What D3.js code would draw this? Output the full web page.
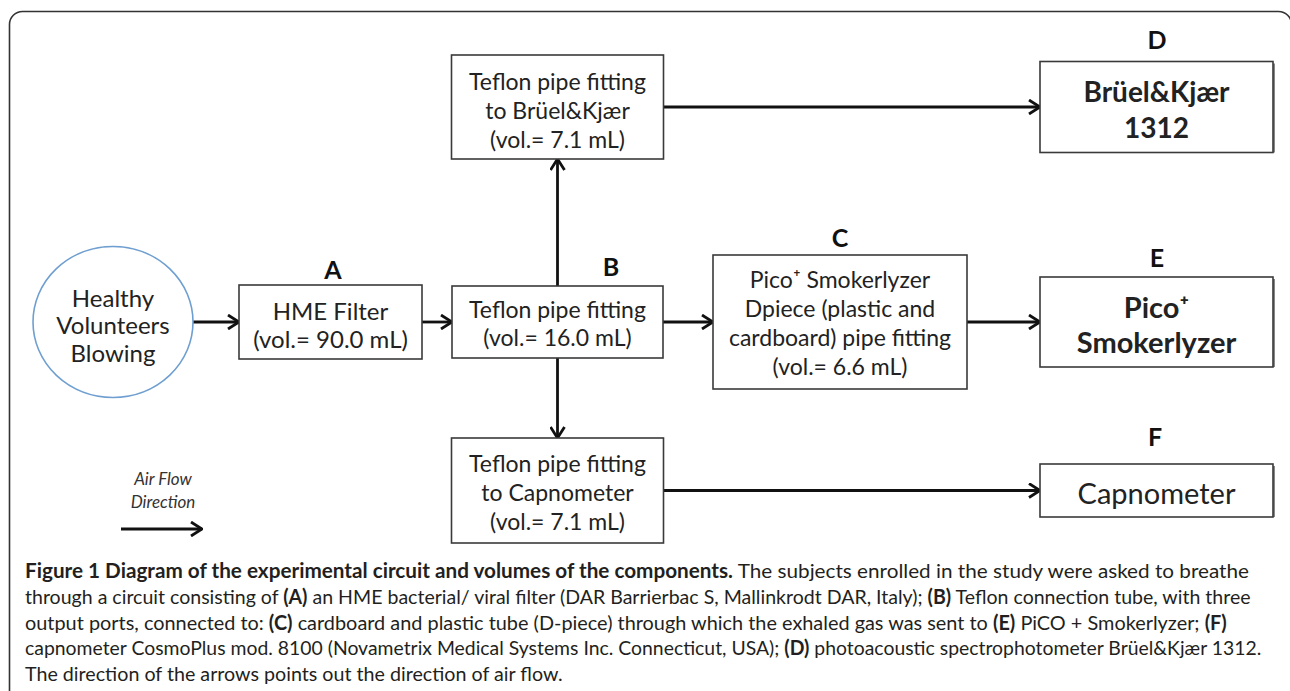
<!DOCTYPE html>
<html><head><meta charset="utf-8">
<script src="https://cdn.jsdelivr.net/npm/d3@7"></script>
<style>body{margin:0;background:#fff}svg{display:block}</style>
</head><body>
<svg id="c" width="1290" height="691"></svg>
<script>
// ---- data ----
const nodeIds    = ["src","A","B","top","bot","C","D","E","F"];
const nodeLetters= ["", "A","B","","","C","D","E","F"];
const nodeLines  = [
  ["Healthy","Volunteers","Blowing"],
  ["HME Filter","(vol.= 90.0 mL)"],
  ["Teflon pipe fitting","(vol.= 16.0 mL)"],
  ["Teflon pipe fitting","to Brüel&Kjær","(vol.= 7.1 mL)"],
  ["Teflon pipe fitting","to Capnometer","(vol.= 7.1 mL)"],
  ["Pico⁺ Smokerlyzer","Dpiece (plastic and","cardboard) pipe fitting","(vol.= 6.6 mL)"],
  ["Brüel&Kjær","1312"],
  ["Pico⁺","Smokerlyzer"],
  ["Capnometer"]
];
const nodeCols = [0,1,2,2,2,3,4,4,4];
const nodeRows = ["mid","mid","mid","top","bot","mid","top","mid","bot"];
const edgeFrom = ["src","A","B","B","B","C","top","bot"];
const edgeTo   = ["A","B","C","top","bot","E","D","F"];
const legendLines = ["Air Flow","Direction"];
const captionLines = [
  [["Figure 1 Diagram of the experimental circuit and volumes of the components.",1],[" The subjects enrolled in the study were asked to breathe",0]],
  [["through a circuit consisting of ",0],["(A)",1],[" an HME bacterial/ viral filter (DAR Barrierbac S, Mallinkrodt DAR, Italy); ",0],["(B)",1],[" Teflon connection tube, with three",0]],
  [["output ports, connected to: ",0],["(C)",1],[" cardboard and plastic tube (D-piece) through which the exhaled gas was sent to ",0],["(E)",1],[" PiCO + Smokerlyzer; ",0],["(F)",1]],
  [["capnometer CosmoPlus mod. 8100 (Novametrix Medical Systems Inc. Connecticut, USA); ",0],["(D)",1],[" photoacoustic spectrophotometer Brüel&Kjær 1312.",0]],
  [["The direction of the arrows points out the direction of air flow.",0]]
];

// ---- layout (geometry/styles) ----
const xCol = d3.scaleOrdinal().domain([0,1,2,3,4]).range([113,330.5,557.5,840,1156.5]);
const yRow = d3.scaleOrdinal().domain(["top","mid","bot"]).range([107,322,490.5]);
const size = {src:[160,151],A:[183,74],B:[211,72],top:[212,104],bot:[212,105],C:[254,134],D:[233,91],E:[233,90],F:[233,53]};
const letterPos = {A:[333,270],B:[611,267],C:[840,238],D:[1157,40],E:[1157,258],F:[1155,437]};
const lineGap = {src:27.5,A:28,B:28,top:29,bot:29,C:29,D:36,E:35,F:0};
const textShift = {src:4,A:4,B:2,top:4,bot:2,C:1,D:3,E:3,F:3};
const fontSpec = {src:[24,400],A:[24,400],B:[23,400],top:[23,400],bot:[23,400],C:[23,400],D:[28,700],E:[29,700],F:[29,400]};
const captionEnds = [1250,1251,1227,1262,563];
const captionY = d3.scaleLinear().domain([0,4]).range([578,681]);

const svg = d3.select("#c");
const FONT = "Lato, 'Open Sans', sans-serif";

// frame
svg.append("rect").attr("x",9.5).attr("y",11.5).attr("width",1282).attr("height",760)
  .attr("rx",13).attr("fill","none").attr("stroke","#333").attr("stroke-width",1.6);

// marker
svg.append("defs").append("marker").attr("id","arr").attr("viewBox","0 0 13 16")
  .attr("refX",12).attr("refY",8).attr("markerWidth",13).attr("markerHeight",16)
  .attr("markerUnits","userSpaceOnUse").attr("orient","auto")
  .append("path").attr("d","M1,1 L12,8 L1,15").attr("fill","none").attr("stroke","#111").attr("stroke-width",2.8);

const nodes = nodeIds.map((id,i)=>({id, letter:nodeLetters[i], lines:nodeLines[i],
  cx:xCol(nodeCols[i]), cy:yRow(nodeRows[i]), w:size[id][0], h:size[id][1]}));
const byId = Object.fromEntries(nodes.map(n=>[n.id,n]));

// edges
const edges = edgeFrom.map((f,i)=>{
  const a=byId[f], b=byId[edgeTo[i]];
  if (Math.abs(a.cx-b.cx)<1) { // vertical
    const down = b.cy>a.cy;
    return {x1:a.cx, y1: down? a.cy+a.h/2 : a.cy-a.h/2, x2:b.cx, y2: down? b.cy-b.h/2 : b.cy+b.h/2};
  }
  const y = a.cy;
  return {x1:a.cx+a.w/2, y1:y, x2:b.cx-b.w/2, y2:y};
});
svg.selectAll("line.e").data(edges).join("line").attr("class","e")
  .attr("x1",d=>d.x1).attr("y1",d=>d.y1).attr("x2",d=>d.x2).attr("y2",d=>d.y2)
  .attr("stroke","#111").attr("stroke-width",2.8).attr("marker-end","url(#arr)");

// shadows on right-side boxes
nodes.filter(n=>["D","E","F"].includes(n.id)).forEach(n=>{
  svg.append("rect").attr("x",n.cx+n.w/2-1).attr("y",n.cy-n.h/2+2).attr("width",3).attr("height",n.h-2)
    .attr("fill","#888");
});

// boxes
nodes.forEach(n=>{
  if(n.id==="src"){
    svg.append("ellipse").attr("cx",n.cx).attr("cy",n.cy).attr("rx",n.w/2).attr("ry",n.h/2)
      .attr("fill","#fff").attr("stroke","#6f9fd0").attr("stroke-width",1.6);
  } else {
    svg.append("rect").attr("x",n.cx-n.w/2).attr("y",n.cy-n.h/2).attr("width",n.w).attr("height",n.h)
      .attr("fill","#fff").attr("stroke","#3a3a3a").attr("stroke-width",1.6);
  }
  const [fs,fw]=fontSpec[n.id], gap=lineGap[n.id];
  const t = svg.append("text").attr("text-anchor","middle").attr("font-family",FONT)
    .attr("font-size",fs).attr("font-weight",fw).attr("fill","#222");
  n.lines.forEach((l,i)=>{
    t.append("tspan").attr("x",n.cx)
      .attr("y", n.cy + textShift[n.id] + (i-(n.lines.length-1)/2)*gap + fs*0.35).text(l);
  });
  if(n.letter){
    const p=letterPos[n.letter];
    svg.append("text").attr("x",p[0]).attr("y",p[1]+9).attr("text-anchor","middle")
      .attr("font-family",FONT).attr("font-size",25).attr("font-weight",700).attr("fill","#111").text(n.letter);
  }
});

// legend
const lg = svg.append("text").attr("text-anchor","middle").attr("font-family",FONT)
  .attr("font-size",17).attr("font-style","italic").attr("fill","#333");
legendLines.forEach((l,i)=>lg.append("tspan").attr("x",163).attr("y",485+i*23).text(l));
svg.append("line").attr("x1",121).attr("x2",202).attr("y1",529).attr("y2",529)
  .attr("stroke","#111").attr("stroke-width",2.8).attr("marker-end","url(#arr)");

// caption: each line scaled horizontally to its measured width
captionLines.forEach((segs,i)=>{
  const g = svg.append("g");
  const t = g.append("text").attr("x",0).attr("y",0)
    .attr("font-family",FONT).attr("font-size",20).attr("fill","#231f20");
  segs.forEach(s=>t.append("tspan").attr("font-weight",s[1]?700:400).text(s[0]));
  const natural = t.node().getComputedTextLength();
  const k = (captionEnds[i]-25)/natural;
  g.attr("transform",`translate(25,${captionY(i)}) scale(${k},1)`);
});
</script>
</body></html>
